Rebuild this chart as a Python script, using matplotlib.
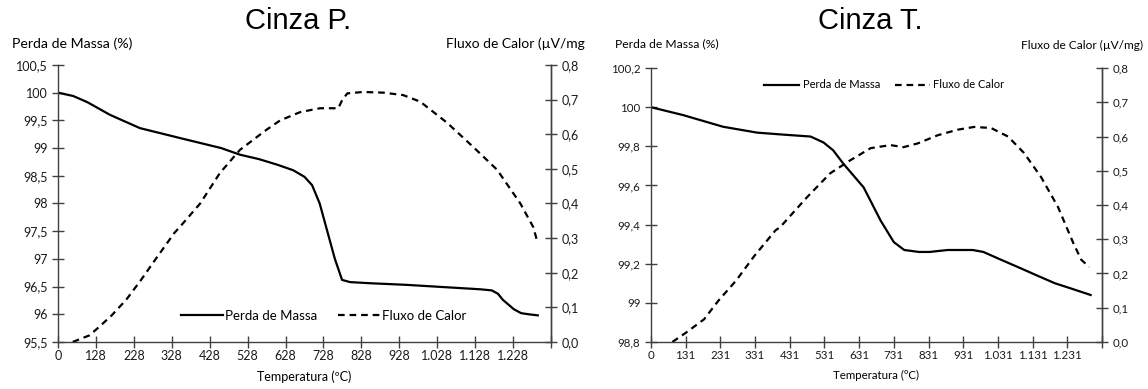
import matplotlib.pyplot as plt
import numpy as np

plt.rcParams['font.family'] = ['Lato', 'DejaVu Sans']
plt.rcParams['font.size'] = 9

# positions are in units of the category ticks (0..13)
p_mass_x = [0, 0.4, 0.77, 1.37, 2.16, 3.22, 4.3, 4.8, 5.3, 5.78, 6.2, 6.5, 6.7, 6.9, 7.1, 7.3, 7.49, 7.7,
            8.22, 9.2, 10.17, 11.14, 11.44, 11.6, 11.73, 12.02, 12.21, 12.4, 12.65]
p_mass_y = [100.0, 99.94, 99.83, 99.6, 99.36, 99.18, 99.0, 98.88, 98.8, 98.7, 98.6, 98.48, 98.33, 98.0,
            97.5, 97.0, 96.62, 96.58, 96.56, 96.53, 96.49, 96.45, 96.43, 96.37, 96.26, 96.09, 96.02, 96.0,
            95.98]
p_heat_x = [0.39, 0.83, 1.07, 1.41, 1.8, 2.19, 2.58, 3.07, 3.22, 3.75, 4.27, 4.8, 5.5, 5.86, 6.39, 6.91,
            7.39, 7.5, 7.63, 8.05, 8.58, 9.1, 9.55, 10.26, 10.95, 11.58, 12.19, 12.53, 12.65]
p_heat_y = [0.0, 0.019, 0.042, 0.076, 0.122, 0.179, 0.24, 0.315, 0.333, 0.40, 0.488, 0.555, 0.613, 0.64,
            0.664, 0.675, 0.675, 0.70, 0.718, 0.722, 0.72, 0.713, 0.694, 0.633, 0.563, 0.497, 0.40, 0.332,
            0.285]
p_xticklabels = ['0', '128', '228', '328', '428', '528', '628', '728', '828', '928', '1.028', '1.128', '1.228']

t_mass_x = [0, 0.92, 2.08, 3.06, 3.8, 4.6, 4.97, 5.25, 5.55, 6.13, 6.62, 7.0, 7.3, 7.72, 8.03, 8.55,
            9.27, 9.58, 10.09, 10.61, 11.12, 11.64, 12.16, 12.67]
t_mass_y = [100.0, 99.96, 99.9, 99.87, 99.86, 99.85, 99.82, 99.78, 99.71, 99.59, 99.42, 99.31, 99.27,
            99.26, 99.26, 99.27, 99.27, 99.26, 99.22, 99.18, 99.14, 99.1, 99.07, 99.04]
t_heat_x = [0.62, 1.01, 1.53, 1.94, 2.46, 2.97, 3.59, 3.73, 4.5, 5.17, 5.75, 6.33, 6.9, 7.28, 7.69,
            8.27, 8.84, 9.31, 9.8, 10.29, 10.75, 11.24, 11.73, 12.17, 12.4, 12.63]
t_heat_y = [0.0, 0.027, 0.066, 0.12, 0.18, 0.25, 0.326, 0.336, 0.423, 0.493, 0.531, 0.566, 0.575,
            0.569, 0.58, 0.604, 0.62, 0.628, 0.625, 0.60, 0.552, 0.482, 0.394, 0.289, 0.24, 0.219]
t_xticklabels = ['0', '131', '231', '331', '431', '531', '631', '731', '831', '931', '1.031', '1.131', '1.231']

fig = plt.figure(figsize=(11.48, 3.89), dpi=100)


def comma(v, nd):
    return f'{v:.{nd}f}'.replace('.', ',')


def setup(ax, ylim, yticks, ylabels, xlabels, fs):
    ax2 = ax.twinx()
    ax.set_xlim(0, 13)
    ax.set_ylim(*ylim)
    ax2.set_ylim(0, 0.8)
    ax.set_xticks(np.arange(14))
    ax.set_xticklabels(xlabels + [''])
    ax.set_yticks(yticks)
    ax.set_yticklabels(ylabels)
    ax2.set_yticks(np.arange(0, 0.81, 0.1))
    ax2.set_yticklabels([comma(v, 1) for v in np.arange(0, 0.81, 0.1)])
    for a in (ax, ax2):
        a.spines['top'].set_visible(False)
        for s in a.spines.values():
            s.set_color('#404040')
            s.set_linewidth(1.0)
        a.tick_params(direction='inout', length=8, width=1, color='#404040', labelsize=fs, labelcolor='#1a1a1a')
    ax2.spines['left'].set_visible(False)
    ax2.spines['bottom'].set_visible(False)
    ax.tick_params(axis='x', pad=2)
    ax.set_xlabel('Temperatura (ºC)', fontsize=fs, labelpad=6)
    return ax2


# ---- Cinza P.
ax = fig.add_axes([0.0505, 0.121, 0.4295, 0.712])
ax2 = setup(ax, (95.5, 100.5), np.arange(95.5, 100.51, 0.5),
            ['95,5', '96', '96,5', '97', '97,5', '98', '98,5', '99', '99,5', '100', '100,5'], p_xticklabels, 9)
l1, = ax.plot(p_mass_x, p_mass_y, color='black', lw=1.6)
l2, = ax2.plot(p_heat_x, p_heat_y, color='black', lw=1.6, ls=(0, (3, 2.2)))
ax.legend([l1, l2], ['Perda de Massa', 'Fluxo de Calor'], loc='lower center', bbox_to_anchor=(0.539, 0.03),
          ncol=2, frameon=False, fontsize=9.5, handlelength=3.2, handletextpad=0.15, columnspacing=1.6)
fig.text(298 / 1148, 1 - 21 / 389, 'Cinza P.', family='Liberation Sans', fontsize=21, ha='center', va='center')
fig.text(12 / 1148, 1 - 44 / 389, 'Perda de Massa (%)', fontsize=10.2, ha='left', va='center')
fig.text(446 / 1148, 1 - 44 / 389, 'Fluxo de Calor (µV/mg', fontsize=10, ha='left', va='center')

# ---- Cinza T.
bx = fig.add_axes([0.567, 0.121, 0.393, 0.704])
bx2 = setup(bx, (98.8, 100.2), np.arange(98.8, 100.21, 0.2),
            ['98,8', '99', '99,2', '99,4', '99,6', '99,8', '100', '100,2'], t_xticklabels, 8.3)
m1, = bx.plot(t_mass_x, t_mass_y, color='black', lw=1.6)
m2, = bx2.plot(t_heat_x, t_heat_y, color='black', lw=1.6, ls=(0, (3, 2.2)))
bx.legend([m1, m2], ['Perda de Massa', 'Fluxo de Calor'], loc='upper center', bbox_to_anchor=(0.517, 0.995),
          ncol=2, frameon=False, fontsize=8, handlelength=3.2, handletextpad=0.3, columnspacing=1.3)
fig.text(870 / 1148, 1 - 21 / 389, 'Cinza T.', family='Liberation Sans', fontsize=21, ha='center', va='center')
fig.text(615 / 1148, 1 - 44 / 389, 'Perda de Massa (%)', fontsize=8.7, ha='left', va='center')
fig.text(1143 / 1148, 1 - 45 / 389, 'Fluxo de Calor (µV/mg)', fontsize=8.6, ha='right', va='center')

fig.savefig('out.png', dpi=100)
